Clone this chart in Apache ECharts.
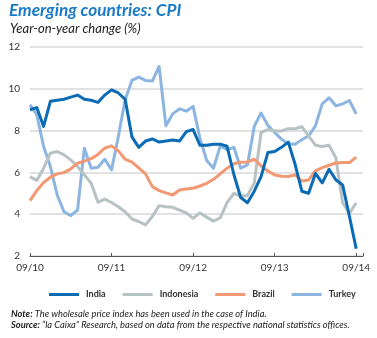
<!DOCTYPE html>
<html>
<head>
<meta charset="utf-8">
<script src="https://cdn.jsdelivr.net/npm/echarts@6/dist/echarts.min.js"></script>
<style>
  html, body { margin: 0; padding: 0; background: #ffffff; }
  #chart { width: 377px; height: 338px; }
</style>
</head>
<body>
<div id="chart"></div>
<script>
// Monthly year-on-year CPI change (%), September 2010 to September 2014
const xTickLabels = ['09/10', '09/11', '09/12', '09/13', '09/14'];
const seriesNames = ['India', 'Indonesia', 'Brazil', 'Turkey'];

const india = [9.0, 9.1, 8.2, 9.4, 9.45, 9.5, 9.6, 9.7, 9.5, 9.45,
  9.35, 9.7, 9.95, 9.8, 9.5, 7.7, 7.2, 7.5, 7.6, 7.45,
  7.5, 7.55, 7.5, 7.95, 8.05, 7.3, 7.3, 7.35, 7.35, 7.25,
  5.9, 4.8, 4.55, 5.1, 5.8, 6.95, 7.0, 7.2, 7.45, 6.4,
  5.1, 5.0, 5.95, 5.5, 6.15, 5.65, 5.4, 3.9, 2.35];

const indonesia = [5.8, 5.61, 6.2, 6.92, 7.0, 6.84, 6.6, 6.28, 5.88, 5.48,
  4.57, 4.72, 4.56, 4.36, 4.12, 3.77, 3.65, 3.49, 3.89, 4.41,
  4.36, 4.33, 4.2, 4.06, 3.8, 4.06, 3.86, 3.67, 3.83, 4.55,
  5.0, 4.87, 4.9, 5.5, 7.9, 8.05, 7.98, 7.98, 8.09, 8.09,
  8.19, 7.74, 7.3, 7.24, 7.3, 6.7, 4.55, 4.04, 4.55];

const brazil = [4.65, 5.13, 5.51, 5.77, 5.93, 5.99, 6.17, 6.44, 6.54, 6.66,
  6.86, 7.16, 7.27, 7.03, 6.63, 6.49, 6.22, 5.93, 5.32, 5.13,
  5.02, 4.92, 5.16, 5.21, 5.24, 5.35, 5.48, 5.67, 5.93, 6.2,
  6.41, 6.49, 6.5, 6.63, 6.31, 6.07, 5.88, 5.82, 5.8, 5.88,
  5.59, 5.64, 6.07, 6.23, 6.34, 6.45, 6.47, 6.47, 6.73];

const turkey = [9.24, 8.76, 7.24, 6.28, 4.92, 4.12, 3.93, 4.2, 7.16, 6.2,
  6.25, 6.63, 6.12, 7.72, 9.48, 10.4, 10.56, 10.4, 10.37, 11.07,
  8.23, 8.8, 9.04, 8.93, 9.16, 7.64, 6.57, 6.2, 7.27, 7.08,
  7.2, 6.2, 6.36, 8.2, 8.84, 8.25, 7.91, 7.59, 7.37, 7.35,
  7.56, 7.75, 8.23, 9.28, 9.57, 9.19, 9.28, 9.44, 8.8];

const colors = ['#0b6bb4', '#b7c2c5', '#f29872', '#8db5e2'];
const FONT = 'Lato, "Open Sans", sans-serif';

// Pair each monthly value with its month index on the x axis
const toPoints = arr => arr.map((v, i) => [i, v]);
const allSeries = [india, indonesia, brazil, turkey];

const chart = echarts.init(document.getElementById('chart'), null, { renderer: 'canvas' });

chart.setOption({
  animation: false,
  backgroundColor: '#ffffff',
  color: colors,
  grid: { left: 30, right: 14, top: 47, bottom: 82, containLabel: false },
  graphic: [
    {
      type: 'text', left: 9, top: 2,
      style: { text: 'Emerging countries: CPI', font: 'italic bold 17.2px ' + FONT, fill: '#1b7bc6' }
    },
    {
      type: 'text', left: 10, top: 22,
      style: { text: 'Year-on-year change (%)', font: 'italic 13px ' + FONT, fill: '#222222' }
    },
    {
      type: 'text', left: 11, top: 308,
      style: {
        text: '{b|Note:} The wholesale price index has been used in the case of India.\n{b|Source:} “la Caixa” Research, based on data from the respective national statistics offices.',
        font: 'italic 9.3px ' + FONT,
        fill: '#222222',
        lineHeight: 11.5,
        rich: {
          b: { font: 'italic bold 9.3px ' + FONT, fill: '#222222' }
        }
      }
    }
  ],
  legend: {
    data: seriesNames,
    top: 285,
    left: 44,
    icon: 'rect',
    itemWidth: 30,
    itemHeight: 3,
    itemGap: 17,
    textStyle: { fontFamily: FONT, fontSize: 9, color: '#333333', fontWeight: 'bold', padding: [0, 0, 0, 2] }
  },
  xAxis: {
    type: 'value',
    min: 0,
    max: 49,
    interval: 12,
    axisLine: { show: true, lineStyle: { color: '#555555', width: 1 } },
    axisTick: { show: true, inside: true, length: 3, lineStyle: { color: '#555555' } },
    splitLine: { show: false },
    axisLabel: {
      fontFamily: FONT, fontSize: 10, color: '#333333', margin: 7,
      formatter: v => xTickLabels[v / 12] || ''
    }
  },
  yAxis: {
    type: 'value',
    min: 2,
    max: 12,
    interval: 2,
    axisLine: { show: false },
    axisTick: { show: false },
    splitLine: { lineStyle: { color: '#d9d9d9', width: 1.5 } },
    axisLabel: { fontFamily: FONT, fontSize: 10, color: '#333333', margin: 10 }
  },
  series: seriesNames.map((name, k) => ({
    name: name,
    type: 'line',
    data: toPoints(allSeries[k]),
    showSymbol: false,
    symbol: 'none',
    lineStyle: { width: 3, color: colors[k], join: 'round' },
    z: [4, 2, 3, 1][k]
  }))
});
</script>
</body>
</html>
